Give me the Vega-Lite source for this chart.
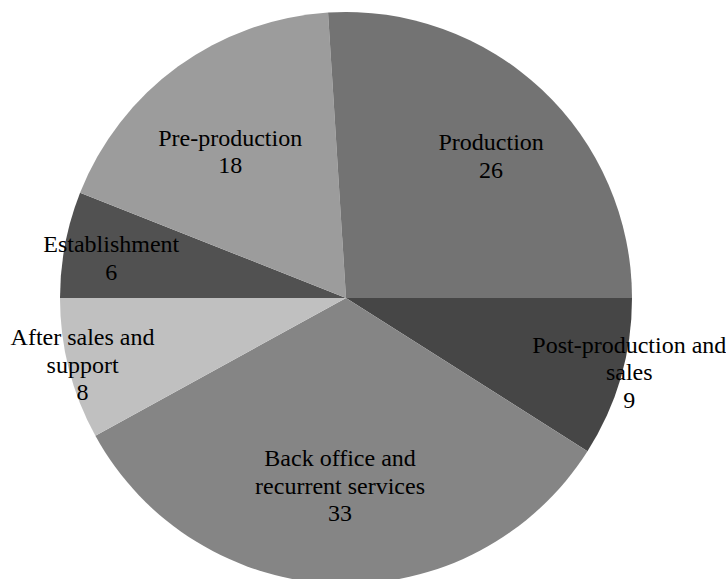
{
  "$schema": "https://vega.github.io/schema/vega-lite/v6.json",
  "width": 692,
  "height": 596,
  "autosize": {"type": "none"},
  "padding": {"left": 0, "top": 0, "right": 34, "bottom": 0},
  "background": "white",
  "config": {"view": {"stroke": null}, "font": "Liberation Serif"},
  "data": {
    "values": [
      {"category": "Post-production and\nsales", "value": 9, "rank": 1},
      {"category": "Back office and\nrecurrent services", "value": 33, "rank": 2},
      {"category": "After sales and\nsupport", "value": 8, "rank": 3},
      {"category": "Establishment", "value": 6, "rank": 4},
      {"category": "Pre-production", "value": 18, "rank": 5},
      {"category": "Production", "value": 26, "rank": 6}
    ]
  },
  "transform": [
    {"stack": "value", "groupby": [], "sort": [{"field": "rank", "order": "ascending"}], "as": ["v0", "v1"]},
    {"calculate": "(datum.v0 + datum.v1) / 2", "as": "vm"},
    {"calculate": "datum.category + '\\n' + datum.value", "as": "label"}
  ],
  "layer": [
    {
      "mark": {"type": "arc", "outerRadius": 286, "stroke": null},
      "encoding": {
        "theta": {"field": "v0", "type": "quantitative", "scale": {"domain": [0, 100], "range": [1.5707963, 7.8539816]}},
        "theta2": {"field": "v1"},
        "color": {
          "field": "category", "type": "nominal", "legend": null,
          "scale": {
            "domain": ["Post-production and\nsales", "Back office and\nrecurrent services", "After sales and\nsupport", "Establishment", "Pre-production", "Production"],
            "range": ["#464646", "#858585", "#c0c0c0", "#515151", "#9c9c9c", "#737373"]
          }
        }
      }
    },
    {
      "transform": [{"filter": "datum.rank == 6"}],
      "mark": {"type": "text", "radius": 212, "dy": 0, "lineBreak": "\n", "font": "Liberation Serif", "fontSize": 24, "lineHeight": 27.6, "color": "black", "align": "center", "baseline": "middle"},
      "encoding": {"theta": {"field": "vm", "type": "quantitative"}, "text": {"field": "label"}}
    },
    {
      "transform": [{"filter": "datum.rank == 5"}],
      "mark": {"type": "text", "radius": 197, "dy": 0, "lineBreak": "\n", "font": "Liberation Serif", "fontSize": 24, "lineHeight": 27.6, "color": "black", "align": "center", "baseline": "middle"},
      "encoding": {"theta": {"field": "vm", "type": "quantitative"}, "text": {"field": "label"}}
    },
    {
      "transform": [{"filter": "datum.rank == 4"}],
      "mark": {"type": "text", "radius": 239, "dy": -8, "lineBreak": "\n", "font": "Liberation Serif", "fontSize": 24, "lineHeight": 27.6, "color": "black", "align": "center", "baseline": "middle"},
      "encoding": {"theta": {"field": "vm", "type": "quantitative"}, "text": {"field": "label"}}
    },
    {
      "transform": [{"filter": "datum.rank == 2"}],
      "mark": {"type": "text", "radius": 189, "dy": -27.6, "lineBreak": "\n", "font": "Liberation Serif", "fontSize": 24, "lineHeight": 27.6, "color": "black", "align": "center", "baseline": "middle"},
      "encoding": {"theta": {"field": "vm", "type": "quantitative"}, "text": {"field": "label"}}
    },
    {
      "transform": [{"filter": "datum.rank == 3"}],
      "mark": {"type": "text", "radius": 272, "dy": -27.6, "lineBreak": "\n", "font": "Liberation Serif", "fontSize": 24, "lineHeight": 27.6, "color": "black", "align": "center", "baseline": "middle"},
      "encoding": {"theta": {"field": "vm", "type": "quantitative"}, "text": {"field": "label"}}
    },
    {
      "transform": [{"filter": "datum.rank == 1"}],
      "mark": {"type": "text", "radius": 295, "dy": -34.6, "lineBreak": "\n", "font": "Liberation Serif", "fontSize": 24, "lineHeight": 27.6, "color": "black", "align": "center", "baseline": "middle"},
      "encoding": {"theta": {"field": "vm", "type": "quantitative"}, "text": {"field": "label"}}
    }
  ]
}
